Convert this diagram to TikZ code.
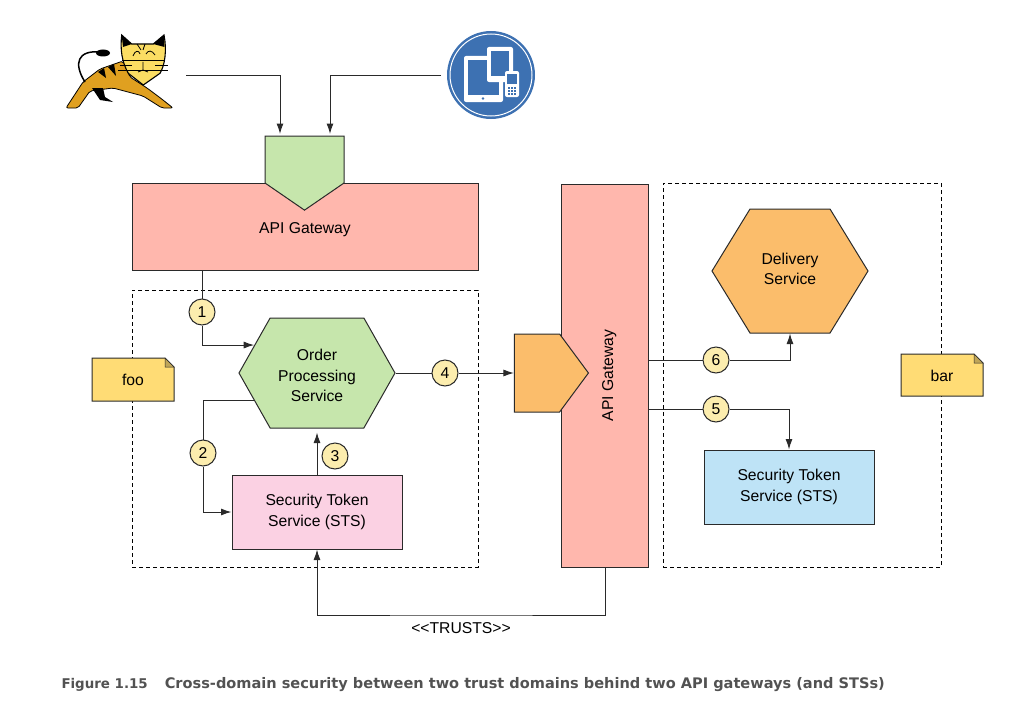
\documentclass[tikz,border=0pt]{standalone}
\usepackage{fontspec}
\setmainfont{Liberation Sans}
\newfontfamily\capfont{DejaVu Sans}
\usetikzlibrary{arrows.meta, shapes.symbols, calc}
\definecolor{edgegray}{HTML}{2A2A2A}
\definecolor{gatered}{HTML}{FFB7AD}
\definecolor{svcgreen}{HTML}{C6E6AC}
\definecolor{svcorange}{HTML}{FBBD6B}
\definecolor{stspink}{HTML}{FBD1E3}
\definecolor{stsblue}{HTML}{BEE3F6}
\definecolor{noteyellow}{HTML}{FFDC75}
\definecolor{stepyellow}{HTML}{FCEDAE}
\definecolor{catgold}{HTML}{E0A020}
\definecolor{cathead}{HTML}{FBDD63}
\definecolor{devblue}{HTML}{3D71B2}
\tikzset{
  box/.style = {draw=edgegray, line width=1pt, inner sep=0pt, align=center,
    font=\fontsize{15.7}{20.5}\selectfont},
  gatebox/.style = {box, fill=gatered},
  stsbox/.style = {box, minimum width=170, minimum height=74},
  hexbox/.style = {box, shape=signal, signal to=west and east, minimum width=156},
  portbox/.style = {box, shape=signal},
  domainbox/.style = {draw=black, dash pattern=on 4pt off 3pt, line width=0.8pt, inner sep=0pt},
  stepnum/.style = {box, circle, fill=stepyellow, minimum size=26},
  notelabel/.style = {font=\fontsize{15.7}{17}\selectfont, inner sep=0pt},
  notefold/.style = {draw=edgegray, line width=1pt, fill=noteyellow},
}
\begin{document}
\begin{tikzpicture}[x=1pt, y=-1pt, >={Latex[length=10.5pt, width=7pt]}, line width=1pt, draw=edgegray]
  \useasboundingbox (0,0) rectangle (1027,709);

  \node[domainbox, minimum width=346, minimum height=277] (foo) at (305,428.5) {};
  \node[domainbox, minimum width=278, minimum height=384] (bar) at (802,375) {};

  \node[gatebox, minimum width=346, minimum height=87] (gwfoo) at (305,227) {\raisebox{-6.5pt}[0pt][0pt]{API Gateway}};
  \node[gatebox, minimum width=87, minimum height=383] (gwbar) at (605,375.5) {\rotatebox{90}{\raisebox{-8pt}[0pt][0pt]{API Gateway}}};

  \node[portbox, fill=svcgreen, signal to=south, signal pointer angle=111, minimum width=79, minimum height=47] (portfoo) at (304.5,159.5) {};
  \node[portbox, fill=svcorange, signal to=east, signal pointer angle=107, minimum width=74, minimum height=78] (portbar) at (537,373) {};

  \node[hexbox, fill=svcgreen, signal pointer angle=121, minimum height=110] (order) at (317,373) {\raisebox{-6pt}[0pt][0pt]{\parbox{80pt}{\centering Order\\Processing\\Service}}};
  \node[hexbox, fill=svcorange, signal pointer angle=117, minimum height=124] (delivery) at (790,271) {\raisebox{-1.5pt}[0pt][0pt]{\parbox{80pt}{\centering Delivery\\Service}}};
  \node[stsbox, fill=stspink] (stsfoo) at (317,512) {Security Token\\Service (STS)};
  \node[stsbox, fill=stsblue] (stsbar) at (789,487) {Security Token\\Service (STS)};

  \draw[notefold] (92,358) -- (165,358) -- (174,367) -- (174,401) -- (92,401) -- cycle;
  \draw[notefold, fill=noteyellow!75!black, line width=0.5pt] (165,358) -- (165,367) -- (174,367) -- cycle;
  \node[notelabel] (notefoo) at (133,380) {foo};
  \draw[notefold] (901,354) -- (974,354) -- (983,363) -- (983,396) -- (901,396) -- cycle;
  \draw[notefold, fill=noteyellow!75!black, line width=0.5pt] (974,354) -- (974,363) -- (983,363) -- cycle;
  \node[notelabel] (notebar) at (942,376) {bar};

  \node[stepnum] (step1) at (202,312) {1};
  \node[stepnum] (step2) at (203,453) {2};
  \node[stepnum] (step3) at (335,456) {3};
  \node[stepnum] (step4) at (445,373) {4};
  \node[stepnum] (step5) at (716,409) {5};
  \node[stepnum] (step6) at (716,360) {6};

  \coordinate (catport) at (186,75);
  \coordinate (devport) at (441,75);
  \coordinate (portfooa) at (280,134);
  \coordinate (portfoob) at (330,134);

  \draw[->] (catport) -| (portfooa);
  \draw[->] (devport) -| (portfoob);
  \draw (gwfoo.south -| step1) -- (step1);
  \draw[->] (step1) |- (order.156);
  \draw (order.204) -| (step2);
  \draw[->] (step2) |- (stsfoo.west);
  \draw[->] (stsfoo.north) -- ($(order.south)+(0,4)$);
  \draw (order.east) -- (step4);
  \draw[->] (step4) -- (portbar.west);
  \draw (gwbar.east |- step6) -- (step6);
  \draw[->] (step6) -| (delivery.south);
  \draw (gwbar.east |- step5) -- (step5);
  \draw[->] (step5) -| (stsbar.north);
  \draw[->] (gwbar.south) |- (461,615) -| (stsfoo.south);

  \node[font=\fontsize{15.7}{17}\selectfont, inner sep=0pt] (trusts) at (461,628) {<{}<TRUSTS>{}>};

  \fill[catgold, draw=black, line width=0.8pt, rounded corners=2pt] (123,61) -- (100,69) -- (83,82) -- (66,108) -- (78,108) -- (90,91) -- (113,88) -- (143,96) -- (162,108) -- (173,108) -- (163,100) -- (147,88) -- (130,77) -- cycle;
  \draw[black, line width=1.5pt] (85,82) .. controls (73,63) and (78,50) .. (100,52);
  \fill[black] (103,53) ellipse (7 and 3.5);
  \fill[black] (92,88) -- (100,100) -- (113,102) -- (105,97) -- (103,88) -- cycle;
  \fill[black] (98,72) -- (106,78) -- (104,68) -- cycle (108,67) -- (116,76) -- (114,64) -- cycle;
  \fill[cathead, draw=black, line width=1.1pt] (121.7,35) -- (131.7,44) -- (153.3,44) -- (164,35) .. controls (167,50) and (165,65) .. (160,73.3) -- (143.3,85) -- (128.3,73.3) .. controls (122,62) and (120,50) .. (121.7,35) -- cycle;
  \fill[black] (121.7,35) -- (131.7,44) -- (123,47) -- cycle (164,35) -- (153.3,44) -- (164.5,47) -- cycle;
  \draw[black, line width=0.8pt] (122,60) -- (165,60) (118,70) -- (168,70) (120,65) -- (132,65) (155,65) -- (168,65);
  \draw[black, line width=0.8pt] (133,56) .. controls (135,50) and (139,50) .. (140,54) (146,54) .. controls (148,50) and (152,50) .. (155,55);
  \draw[black, line width=0.8pt] (143,62) -- (143,70) (138,72) -- (143,70) -- (148,72) (137,44) -- (141,50) (145,44) -- (143,50);

  \fill[devblue] (491,75) circle (44);
  \draw[white, line width=1pt] (491,75) circle (41);
  \fill[white, rounded corners=2] (464,56) rectangle (503,102);
  \fill[devblue] (468,60) rectangle (499,95);
  \fill[devblue] (483,98.5) circle (1.3);
  \fill[white, rounded corners=2] (487,47) rectangle (513,82);
  \fill[devblue] (491,51) rectangle (509,76);
  \fill[white, rounded corners=2] (505,71) rectangle (519,97);
  \fill[devblue] (507,74) rectangle (517,84);
  \foreach \gridy in {87,90,93}
    \foreach \gridx in {508,511,514}
      \fill[devblue] (\gridx,\gridy) rectangle +(2,2);

  \node[anchor=base west, inner sep=0pt, text=black!68, font=\capfont\bfseries\fontsize{14.55}{17}\selectfont] (caption) at (61,688) {{\fontsize{13.4}{17}\selectfont Figure 1.15}\hspace{17pt}Cross-domain security between two trust domains behind two API gateways (and STSs)};
\end{tikzpicture}
\end{document}
